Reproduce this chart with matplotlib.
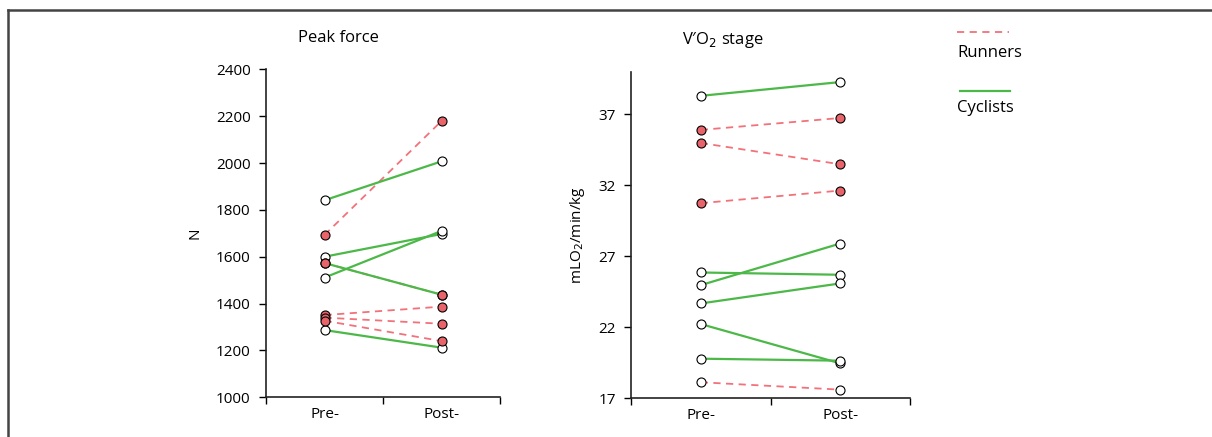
import matplotlib
matplotlib.use("Agg")
import matplotlib.pyplot as plt
from matplotlib.lines import Line2D

plt.rcParams["font.family"] = ["Open Sans", "DejaVu Sans"]

# ── data ──────────────────────────────────────────────────────────────────────
phases = ["Pre-", "Post-"]

# Peak force (N)
pf_run_pre = [1693, 1351, 1340, 1327, 1573]
pf_run_post = [2179, 1387, 1314, 1240, 1438]
pf_run_filled = [True, True, True, True, True]
pf_cyc_pre = [1841, 1600, 1511, 1573, 1287]
pf_cyc_post = [2007, 1697, 1710, 1438, 1212]
pf_cyc_filled = [False, False, False, True, False]
pf_ticks = [1000, 1200, 1400, 1600, 1800, 2000, 2200, 2400]

# V'O2 stage (mLO2/min/kg)
vo_run_pre = [35.9, 34.98, 30.74, 18.13]
vo_run_post = [36.74, 33.48, 31.63, 17.61]
vo_run_filled = [True, True, True, False]
vo_cyc_pre = [38.3, 25.86, 24.97, 23.68, 22.23, 19.79]
vo_cyc_post = [39.27, 25.70, 27.9, 25.09, 19.46, 19.65]
vo_cyc_filled = [False, False, False, False, False, False]
vo_ticks = [17, 22, 27, 32, 37]

RED = "#f2727a"
RED_FILL = "#e8646a"
GREEN = "#4cb848"

fig = plt.figure(figsize=(12.12, 4.37), dpi=100)
fig.patch.set_facecolor("white")

# cropped frame (top + left edges only visible)
fig.add_artist(Line2D([7.5 / 1212, 7.5 / 1212], [0, 1 - 9.5 / 437],
                      color="#444444", lw=1.8, transform=fig.transFigure))
fig.add_artist(Line2D([7.5 / 1212, 1], [1 - 9.5 / 437, 1 - 9.5 / 437],
                      color="#444444", lw=1.8, transform=fig.transFigure))


def panel(ax, run_pre, run_post, run_fill, cyc_pre, cyc_post, cyc_fill,
          ylim, yticks):
    xs = [0.5, 1.5]
    for a, b in zip(run_pre, run_post):
        ax.plot(xs, [a, b], color=RED, lw=1.3, ls=(0, (4, 3)), zorder=2)
    for a, b in zip(cyc_pre, cyc_post):
        ax.plot(xs, [a, b], color=GREEN, lw=1.6, zorder=3)
    for pre, post, fill in ((cyc_pre, cyc_post, cyc_fill),
                            (run_pre, run_post, run_fill)):
        for a, b, f in zip(pre, post, fill):
            ax.plot(xs, [a, b], ls="none", marker="o", ms=6.5,
                    mfc=RED_FILL if f else "white", mec="black", mew=0.8,
                    zorder=5 if f else 4)
    ax.set_xlim(0, 2)
    ax.set_ylim(*ylim)
    ax.set_yticks(yticks)
    ax.set_xticks([0, 1, 2])
    ax.set_xticklabels([])
    ax.set_xticks(xs, minor=True)
    ax.set_xticklabels(phases, minor=True)
    ax.tick_params(axis="x", which="minor", length=0, pad=7, labelsize=11)
    ax.tick_params(axis="x", which="major", length=5, width=1)
    ax.tick_params(axis="y", length=5, width=1, labelsize=11, pad=6)
    for s in ("top", "right"):
        ax.spines[s].set_visible(False)
    for s in ("left", "bottom"):
        ax.spines[s].set_linewidth(1.2)
        ax.spines[s].set_color("#222222")


ax1 = fig.add_axes([266 / 1212, 39.7 / 437, 234 / 1212, 328 / 437])
panel(ax1, pf_run_pre, pf_run_post, pf_run_filled,
      pf_cyc_pre, pf_cyc_post, pf_cyc_filled, (1000, 2400), pf_ticks)
ax1.set_ylabel("N", fontsize=11, labelpad=10)

ax2 = fig.add_axes([631 / 1212, 38.7 / 437, 279 / 1212, 326.6 / 437])
panel(ax2, vo_run_pre, vo_run_post, vo_run_filled,
      vo_cyc_pre, vo_cyc_post, vo_cyc_filled, (17, 40), vo_ticks)
ax2.set_ylabel("mLO$_2$/min/kg", fontsize=11, labelpad=8)

fig.text(338 / 1212, 1 - 38 / 437, "Peak force", ha="center", va="center",
         fontsize=12)
fig.text(723 / 1212, 1 - 40 / 437, "V\u2032O$_2$ stage", ha="center",
         va="center", fontsize=12)

# legend
fig.add_artist(Line2D([957 / 1212, 1009 / 1212], [1 - 32 / 437] * 2,
                      color=RED, lw=1.3, ls=(0, (4, 3)),
                      transform=fig.transFigure))
fig.text(957 / 1212, 1 - 53 / 437, "Runners", ha="left", va="center",
         fontsize=12)
fig.add_artist(Line2D([960 / 1212, 1010 / 1212], [1 - 91 / 437] * 2,
                      color=GREEN, lw=1.6, transform=fig.transFigure))
fig.text(957 / 1212, 1 - 108 / 437, "Cyclists", ha="left", va="center",
         fontsize=12)

fig.savefig("out.png", dpi=100, facecolor="white")
